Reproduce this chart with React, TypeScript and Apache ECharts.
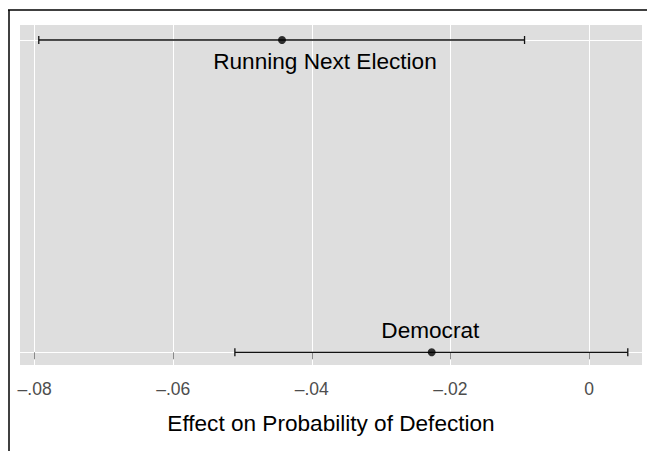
import React, { useEffect, useRef } from "react";
import * as echarts from "echarts";

const categories = ["Democrat", "Running Next Election"];
const estimates = [-0.0227, -0.0443];
const lowerCI = [-0.0511, -0.0794];
const upperCI = [0.0056, -0.0093];
const labelX = [-0.0229, -0.0381];
const labelSide = [-1, 1]; // -1 above point, 1 below point
const tickValues = [-0.08, -0.06, -0.04, -0.02, 0];
const tickLabels = ["–.08", "–.06", "–.04", "–.02", "0"];
const xTitle = "Effect on Probability of Defection";

const FONT = "'Liberation Sans', Arial, Helvetica, sans-serif";

export default function App() {
  const ref = useRef<HTMLDivElement>(null);
  useEffect(() => {
    document.body.style.margin = "0";
    const chart = echarts.init(ref.current!, null, { renderer: "svg" });
    const rows = categories.map((c, i) => [i, estimates[i], lowerCI[i], upperCI[i], labelX[i], labelSide[i]]);
    chart.setOption({
      animation: false,
      backgroundColor: "#ffffff",
      textStyle: { fontFamily: FONT },
      grid: { left: 20, right: 5, top: 25, bottom: 86, show: true, backgroundColor: "#DEDEDE", borderWidth: 0 },
      xAxis: {
        type: "value",
        min: -0.08211,
        max: 0.00765,
        name: xTitle,
        nameLocation: "middle",
        nameGap: 47,
        nameTextStyle: { fontSize: 22.6, color: "#000", fontFamily: FONT },
        axisLine: { show: false },
        axisTick: { show: true, length: 7, customValues: tickValues, lineStyle: { color: "#8a8a8a", width: 1 } },
        axisLabel: {
          customValues: tickValues,
          margin: 15,
          fontSize: 17.5,
          color: "#4d4d4d",
          fontFamily: FONT,
          formatter: (v: number) => {
            const idx = tickValues.findIndex((t) => Math.abs(t - v) < 1e-9);
            return idx >= 0 ? tickLabels[idx] : "";
          },
        },
        splitLine: { show: true, lineStyle: { color: "#ffffff", width: 1 } },
      },
      yAxis: {
        type: "value",
        min: -0.0407,
        max: 1.048,
        axisLine: { show: false },
        axisTick: { show: false, customValues: [0, 1] },
        axisLabel: { show: false, customValues: [0, 1] },
        splitLine: { show: true, lineStyle: { color: "#ffffff", width: 1 } },
      },
      graphic: [
        { type: "line", shape: { x1: 8, y1: 10, x2: 647, y2: 10 }, style: { stroke: "#000", lineWidth: 1.5 }, z: 100 },
        { type: "line", shape: { x1: 9, y1: 10, x2: 9, y2: 451 }, style: { stroke: "#000", lineWidth: 1.5 }, z: 100 },
      ],
      series: [
        {
          type: "custom",
          data: rows,
          encode: { x: [1, 2, 3], y: 0 },
          renderItem: (params: any, api: any) => {
            const y = api.value(0);
            const lo = api.coord([api.value(2), y]);
            const hi = api.coord([api.value(3), y]);
            const lab = api.coord([api.value(4), y]);
            const side = api.value(5);
            const h = 4;
            const st = { stroke: "#111", lineWidth: 1.3 };
            return {
              type: "group",
              children: [
                { type: "line", shape: { x1: lo[0], y1: lo[1], x2: hi[0], y2: hi[1] }, style: st },
                { type: "line", shape: { x1: lo[0], y1: lo[1] - h, x2: lo[0], y2: lo[1] + h }, style: st },
                { type: "line", shape: { x1: hi[0], y1: hi[1] - h, x2: hi[0], y2: hi[1] + h }, style: st },
                {
                  type: "text",
                  x: lab[0],
                  y: lab[1] + side * 22,
                  style: {
                    text: categories[api.value(0)],
                    fontSize: 22.6,
                    fontFamily: FONT,
                    fill: "#000",
                    align: "center",
                    verticalAlign: "middle",
                  },
                },
              ],
            };
          },
          z: 3,
        },
        {
          type: "scatter",
          data: rows.map((r) => [r[1], r[0]]),
          symbol: "circle",
          symbolSize: 8,
          itemStyle: { color: "#000" },
          z: 4,
        },
      ],
    });
    return () => chart.dispose();
  }, []);
  return <div ref={ref} style={{ width: 647, height: 451 }} />;
}
